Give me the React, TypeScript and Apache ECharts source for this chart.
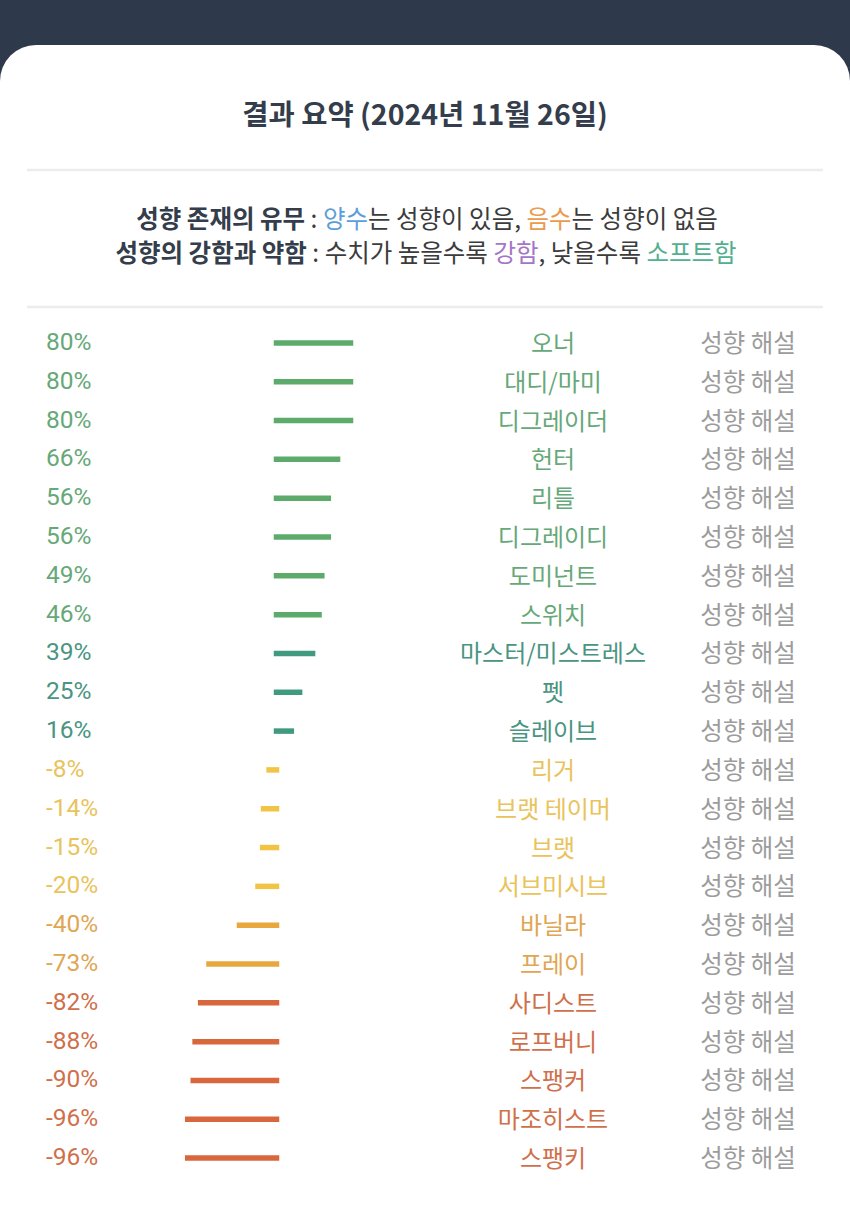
import React, { useEffect, useRef } from "react";
import * as echarts from "echarts";

const titleText = "결과 요약 (2024년 11월 26일)";
const values = [80, 80, 80, 66, 56, 56, 49, 46, 39, 25, 16, -8, -14, -15, -20, -40, -73, -82, -88, -90, -96, -96];
const names = [
  "오너", "대디/마미", "디그레이더", "헌터", "리틀", "디그레이디", "도미넌트", "스위치",
  "마스터/미스트레스", "펫", "슬레이브", "리거", "브랫 테이머", "브랫", "서브미시브", "바닐라",
  "프레이", "사디스트", "로프버니", "스팽커", "마조히스트", "스팽키",
];
const linkLabel = "성향 해설";

const FONT = "Roboto, 'Noto Sans CJK KR', sans-serif";
const KFONT = "'Noto Sans CJK KR', Roboto, sans-serif";

function barColor(v: number) {
  if (v >= 40) return "#5cab6b";
  if (v > 0) return "#3f9a80";
  if (v > -30) return "#f1c445";
  if (v > -80) return "#e9a83f";
  return "#d9673d";
}
function textColor(v: number) {
  if (v >= 40) return "#66a878";
  if (v > 0) return "#4a9482";
  if (v > -30) return "#e9c35b";
  if (v > -80) return "#dfa653";
  return "#d0704b";
}

export default function App() {
  const ref = useRef<HTMLDivElement>(null);
  useEffect(() => {
    if (!ref.current) return;
    const chart = echarts.init(ref.current, null, { renderer: "svg" });
    const rowTop = 322;
    const rowH = 854;
    const gridLeft = 184;
    const gridW = 185;
    const pctLabels = values.map((v) => `${v}%`);
    const LS = 24.5;
    const option: any = {
      animation: false,
      backgroundColor: "#2e3a4b",
      graphic: [
        {
          type: "rect",
          z: -10,
          shape: { x: 0, y: 45, width: 850, height: 1164, r: [36, 36, 0, 0] },
          style: { fill: "#ffffff" },
        },
        {
          type: "text",
          x: 425,
          y: 112,
          style: {
            text: titleText,
            align: "center",
            verticalAlign: "middle",
            fontSize: 28.5,
            fontWeight: "bold",
            fontFamily: KFONT,
            fill: "#343d4b",
          },
        },
        {
          type: "line",
          shape: { x1: 27, y1: 170, x2: 823, y2: 170 },
          style: { stroke: "#ececec", lineWidth: 2.5 },
        },
        {
          type: "line",
          shape: { x1: 27, y1: 307, x2: 823, y2: 307 },
          style: { stroke: "#ececec", lineWidth: 2.5 },
        },
        {
          type: "text",
          x: 427,
          y: 217,
          style: {
            text: "{b|성향 존재의 유무}{n| : }{blue|양수}{n|는 성향이 있음, }{orange|음수}{n|는 성향이 없음}",
            align: "center",
            verticalAlign: "middle",
            fontFamily: KFONT,
            fontSize: LS,
            rich: {
              b: { fontSize: LS, fontWeight: "bold", fill: "#343d4b", fontFamily: KFONT },
              n: { fontSize: LS, fill: "#3c3c3c", fontFamily: KFONT },
              blue: { fontSize: LS, fill: "#5b9fd8", fontFamily: KFONT },
              orange: { fontSize: LS, fill: "#ec9a4e", fontFamily: KFONT },
            },
          },
        },
        {
          type: "text",
          x: 426,
          y: 251,
          style: {
            text: "{b|성향의 강함과 약함}{n| : 수치가 높을수록 }{purple|강함}{n|, 낮을수록 }{teal|소프트함}",
            align: "center",
            verticalAlign: "middle",
            fontFamily: KFONT,
            fontSize: LS,
            rich: {
              b: { fontSize: LS, fontWeight: "bold", fill: "#343d4b", fontFamily: KFONT },
              n: { fontSize: LS, fill: "#3c3c3c", fontFamily: KFONT },
              purple: { fontSize: LS, fill: "#a576c8", fontFamily: KFONT },
              teal: { fontSize: LS, fill: "#53b08f", fontFamily: KFONT },
            },
          },
        },
      ],
      grid: { left: gridLeft, top: rowTop, width: gridW, height: rowH, containLabel: false },
      xAxis: {
        type: "value",
        min: -100,
        max: 100,
        show: false,
      },
      yAxis: [
        {
          type: "category",
          data: pctLabels,
          inverse: true,
          position: "left",
          axisLine: { show: false },
          axisTick: { show: false },
          splitLine: { show: false },
          axisLabel: {
            interval: 0,
            align: "left",
            margin: gridLeft - 46,
            fontSize: 24.5,
            fontFamily: FONT,
            color: (_: any, i: number) => textColor(values[i]),
          },
        },
        {
          type: "category",
          data: names,
          inverse: true,
          position: "right",
          axisLine: { show: false },
          axisTick: { show: false },
          splitLine: { show: false },
          axisLabel: {
            interval: 0,
            align: "center",
            margin: 553 - (gridLeft + gridW),
            fontSize: 24,
            fontFamily: KFONT,
            color: (_: any, i: number) => textColor(values[i]),
          },
        },
        {
          type: "category",
          data: names.map(() => linkLabel),
          inverse: true,
          position: "right",
          axisLine: { show: false },
          axisTick: { show: false },
          splitLine: { show: false },
          axisLabel: {
            interval: 0,
            align: "center",
            margin: 748 - (gridLeft + gridW),
            fontSize: 24.5,
            fontFamily: KFONT,
            color: "#9c9c9c",
          },
        },
      ],
      series: [
        {
          type: "custom",
          xAxisIndex: 0,
          yAxisIndex: 0,
          encode: { x: 0, y: 1 },
          data: values.map((v, i) => [v, i]),
          renderItem: (params: any, api: any) => {
            const v = api.value(0);
            const i = api.value(1);
            const p0 = api.coord([0, i]);
            const p1 = api.coord([v, i]);
            return {
              type: "line",
              shape: { x1: p0[0], y1: p0[1] + 1.5, x2: p1[0], y2: p1[1] + 1.5 },
              style: { stroke: barColor(v), lineWidth: 5.5, lineCap: "square" },
            };
          },
        },
      ],
    };
    chart.setOption(option);
    return () => chart.dispose();
  }, []);
  return (
    <div
      ref={ref}
      style={{ position: "absolute", left: 0, top: 0, width: 850, height: 1209 }}
    />
  );
}
